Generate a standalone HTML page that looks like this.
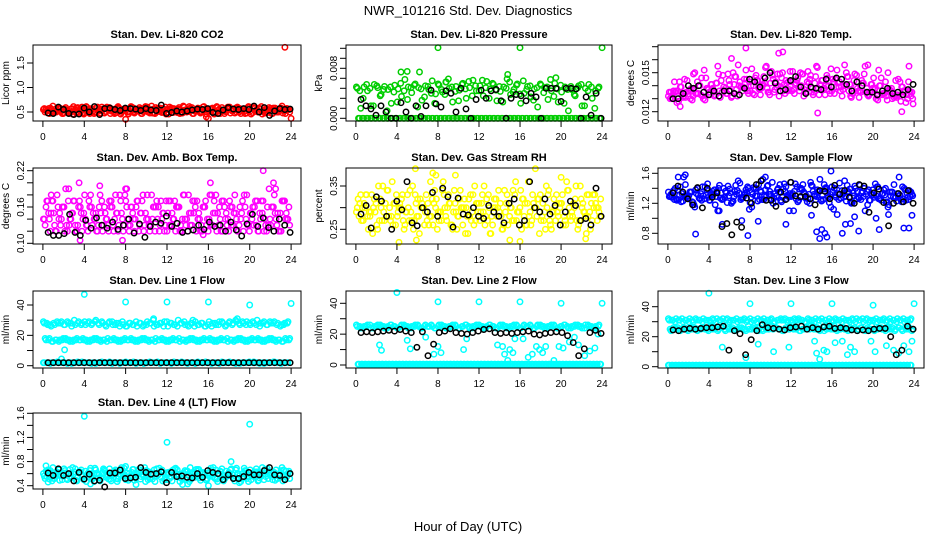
<!DOCTYPE html>
<html><head><meta charset="utf-8"><style>
html,body{margin:0;padding:0;background:#fff;}
svg{display:block;font-family:"Liberation Sans",Arial,sans-serif;}
</style></head><body>
<svg id="fig" width="936" height="540" viewBox="0 0 936 540">
<text x="468" y="15" text-anchor="middle" font-size="13">NWR_101216  Std. Dev. Diagnostics</text>
<text x="468" y="531" text-anchor="middle" font-size="13">Hour of Day (UTC)</text>
</svg>
<script>
// ---- data ----
const hourTicks=[0,4,8,12,16,20,24];
// CO2 (ppm)
const co2A=[0.55,0.52,0.58,0.50,0.54,0.57,0.49,0.53,0.56,0.51,0.59,0.52,0.48,0.55,0.57,0.50,0.53,0.60,0.51,0.54,0.56,0.49,0.58,0.52,0.55,0.50,0.57,0.53,0.59,0.51,0.54,0.48,0.56,0.52,0.58,0.50,0.55,0.53,0.57,0.49,0.54,0.60,0.51,0.56,0.52,0.58,0.50,0.55,0.53,0.57,0.49,0.54,0.59,0.51,0.56,0.52,0.58,0.50,0.55,0.53,0.60,0.49,0.54,0.57,0.51,0.56,0.52,0.58,0.50,0.55,0.53,0.57];
const co2B=[0.50,0.57,0.48,0.56,0.52,0.47,0.59,0.51,0.46,0.58,0.53,0.49,0.61,0.47,0.52,0.58,0.48,0.55,0.60,0.47,0.51,0.59,0.46,0.56,0.50,0.61,0.48,0.54,0.47,0.58,0.50,0.62,0.47,0.55,0.49,0.60,0.46,0.57,0.51,0.59,0.48,0.53,0.61,0.47,0.55,0.50,0.60,0.46,0.56,0.49,0.61,0.47,0.52,0.58,0.48,0.55,0.60,0.47,0.51,0.59,0.46,0.57,0.50,0.61,0.48,0.54,0.47,0.58,0.50,0.62,0.47,0.55];
const co2OutHours=[23.4,8.0,16.0,24.0,15.8];
const co2OutValues=[1.82,0.35,0.37,0.37,0.40];
const co2Black=[0.48,0.47,0.60,0.55,0.47,0.45,0.46,0.58,0.50,0.61,0.45,0.57,0.58,0.55,0.53,0.58,0.57,0.56,0.53,0.57,0.54,0.53,0.64,0.47,0.49,0.52,0.50,0.52,0.54,0.56,0.55,0.57,0.49,0.47,0.54,0.59,0.56,0.55,0.57,0.55,0.62,0.50,0.59,0.43,0.52,0.57,0.55,0.56];
// Pressure (1e-3 kPa)
const presA=[5.0,4.4,3.2,5.4,4.8,2.0,5.2,3.6,4.6,1.2,5.0,4.2,2.6,5.6,4.4,3.0,4.9,5.3,1.8,4.7,3.4,5.1,4.0,2.4,5.5,4.6,3.8,6.3,5.0,4.3,2.8,5.4,4.7,5.9,3.6,5.2,4.4,6.1,4.9,3.2,5.6,4.5,5.1,2.6,4.8,5.8,4.2,5.3,3.9,6.0,4.6,5.2,2.9,4.9,5.5,4.1,5.0,6.2,3.5,4.7,5.3,2.4,4.6,5.1,3.8,4.9,5.4,2.0,4.4,5.0,1.6,4.8];
const presZero=[0,0,0,0,0,0,0,0,0,0,0,0,0,0,0,0,0,0,0,0,0,0,0,0,0,0,0,0,0,0,0,0,0,0,0,0,0,0,0,0,0,0,0,0,0,0,0,0,0,0,0,0,0,0,0,0,0,0,0,0];
const presOutHours=[8,16,24,4.4,5.0,6.2,14.8,19.5,8.8];
const presOutValues=[11.3,11.3,11.3,7.4,7.5,7.4,7.0,6.5,5.8];
const presBlack=[3.0,2.0,1.5,0.5,2.0,1.0,0.0,0.0,2.5,1.0,0.0,2.0,0.3,2.0,4.5,2.3,1.8,4.4,4.0,1.0,4.8,1.5,0.0,3.0,4.5,3.2,4.4,4.6,2.8,0.0,3.2,3.8,3.6,2.8,4.0,3.4,0.0,4.8,4.8,4.8,2.7,4.8,4.8,4.7,0.0,3.4,0.5,4.0,0.0];
// Li-820 temp (1e-3 C)
const tempA=[13.2,13.0,13.5,12.8,13.3,13.1,13.6,12.9,13.4,14.0,13.2,14.6,13.5,13.8,14.2,13.6,14.8,13.4,14.1,15.0,13.7,14.3,13.9,14.5,13.6,14.0,14.4,13.3,14.7,13.8,14.2,13.5,14.9,13.9,14.1,13.6,14.3,13.4,14.6,14.0,13.7,15.1,13.5,14.2,13.8,14.4,13.3,14.0,13.6,14.5,13.9,13.2,14.1,13.6,13.4,13.9,13.1,14.2,13.5,13.3,13.8,13.0,14.0,13.4,13.2,13.7,13.5,13.1,14.3,13.6,13.3,13.5];
const tempB=[13.0,13.6,12.7,13.9,13.2,14.4,13.0,13.7,14.3,13.3,15.2,13.8,14.1,13.2,15.5,14.4,13.6,14.9,13.1,14.7,15.6,13.9,14.2,13.4,15.3,14.6,13.8,14.0,15.4,13.5,14.8,14.3,13.2,15.0,14.4,13.7,15.1,14.2,13.6,14.9,13.9,14.5,13.3,15.5,14.1,13.7,14.8,13.4,14.3,15.2,13.6,14.0,14.7,13.2,14.4,13.8,13.5,14.9,13.3,14.1,13.7,12.9,14.6,13.4,15.0,13.8,13.2,14.5,13.9,13.6,14.3,13.5];
const tempOutHours=[7.6,10.8,11.2,1.2,14.6,19.5,22.8,23.9,23.5,6.2,2.5];
const tempOutValues=[16.9,16.5,16.6,12.4,11.9,15.6,12.0,12.6,15.5,16.1,14.9];
const tempBlack=[13.0,13.0,13.4,14.0,13.8,14.0,13.5,13.3,13.6,13.2,13.6,13.6,13.4,13.3,13.8,14.5,14.3,13.9,14.6,15.0,14.2,13.6,13.7,14.4,14.7,13.9,13.4,13.9,13.8,13.7,14.5,13.9,14.6,14.5,14.1,13.6,14.3,14.0,13.5,13.5,13.3,13.6,13.8,13.4,13.5,13.3,13.7,14.1];
// Amb box temp (C)
const ambA=[0.14,0.17,0.12,0.15,0.18,0.13,0.16,0.12,0.14,0.17,0.13,0.15,0.18,0.12,0.16,0.14,0.13,0.17,0.15,0.12,0.16,0.18,0.13,0.14,0.17,0.12,0.15,0.16,0.13,0.18,0.14,0.12,0.16,0.17,0.13,0.15,0.12,0.17,0.14,0.16,0.13,0.18,0.12,0.15,0.17,0.14,0.13,0.16,0.12,0.18,0.15,0.13,0.17,0.14,0.12,0.16,0.15,0.13,0.17,0.14,0.12,0.16,0.13,0.15,0.17,0.12,0.14,0.16,0.13,0.15,0.17,0.14];
const ambB=[0.13,0.15,0.17,0.12,0.14,0.16,0.19,0.13,0.15,0.12,0.17,0.14,0.13,0.16,0.15,0.12,0.18,0.13,0.14,0.16,0.12,0.15,0.17,0.13,0.14,0.16,0.12,0.17,0.15,0.13,0.14,0.18,0.12,0.16,0.14,0.13,0.17,0.15,0.12,0.16,0.14,0.13,0.15,0.17,0.12,0.14,0.16,0.13,0.18,0.15,0.12,0.14,0.17,0.13,0.16,0.15,0.12,0.14,0.18,0.13,0.15,0.16,0.12,0.17,0.14,0.13,0.16,0.15,0.12,0.17,0.14,0.16];
const ambOutHours=[21.3,3.5,5.5,8.1,7.7,16.2,22.5,22.3,3.6,8.0,15.5,2.5,0.8];
const ambOutValues=[0.22,0.20,0.195,0.19,0.105,0.20,0.19,0.20,0.105,0.19,0.114,0.19,0.18];
const ambBlack=[0.118,0.113,0.113,0.116,0.148,0.118,0.113,0.138,0.125,0.142,0.130,0.125,0.135,0.123,0.130,0.140,0.117,0.132,0.110,0.128,0.135,0.133,0.145,0.128,0.133,0.118,0.120,0.122,0.130,0.123,0.135,0.128,0.130,0.120,0.135,0.122,0.112,0.132,0.148,0.128,0.142,0.126,0.120,0.140,0.130,0.118];
// Gas stream RH (percent)
const rhA=[0.29,0.31,0.27,0.33,0.28,0.30,0.26,0.32,0.29,0.34,0.27,0.31,0.28,0.30,0.25,0.33,0.29,0.27,0.32,0.30,0.26,0.31,0.28,0.34,0.29,0.27,0.30,0.33,0.26,0.31,0.28,0.30,0.24,0.32,0.29,0.27,0.31,0.33,0.28,0.30,0.26,0.32,0.29,0.25,0.31,0.28,0.34,0.27,0.30,0.32,0.26,0.29,0.31,0.28,0.33,0.27,0.30,0.26,0.32,0.29,0.31,0.28,0.34,0.27,0.30,0.25,0.32,0.29,0.28,0.31,0.33,0.30];
const rhB=[0.32,0.27,0.30,0.25,0.33,0.29,0.35,0.27,0.31,0.28,0.36,0.26,0.30,0.33,0.29,0.27,0.35,0.31,0.24,0.30,0.33,0.28,0.26,0.32,0.29,0.36,0.27,0.31,0.29,0.25,0.34,0.30,0.28,0.33,0.26,0.31,0.29,0.35,0.27,0.24,0.32,0.30,0.28,0.34,0.26,0.30,0.33,0.29,0.25,0.31,0.36,0.27,0.30,0.32,0.28,0.25,0.34,0.29,0.27,0.31,0.33,0.26,0.30,0.28,0.35,0.27,0.31,0.24,0.29,0.33,0.30,0.28];
const rhOutHours=[5.8,7.8,7.5,17.5,9.7,20.0,4.2,5.9,15.0,16.0,22.4];
const rhOutValues=[0.39,0.375,0.38,0.39,0.375,0.37,0.22,0.225,0.225,0.222,0.228];
const rhBlack=[0.285,0.305,0.253,0.325,0.315,0.28,0.25,0.315,0.295,0.36,0.265,0.258,0.30,0.29,0.335,0.28,0.345,0.325,0.255,0.322,0.285,0.283,0.30,0.28,0.275,0.305,0.29,0.28,0.265,0.31,0.32,0.26,0.27,0.36,0.30,0.29,0.32,0.285,0.305,0.26,0.29,0.315,0.305,0.27,0.275,0.26,0.345,0.28];
// Sample flow (l/min)
const sfA=[1.35,1.28,1.40,1.25,1.33,1.45,1.30,1.22,1.38,1.27,1.42,1.31,1.24,1.36,1.29,1.44,1.26,1.34,1.39,1.23,1.32,1.47,1.28,1.35,1.21,1.41,1.30,1.37,1.25,1.43,1.32,1.27,1.38,1.24,1.46,1.31,1.29,1.36,1.22,1.40,1.33,1.26,1.44,1.30,1.35,1.23,1.39,1.28,1.42,1.31,1.25,1.37,1.29,1.34,1.21,1.40,1.27,1.36,1.32,1.24,1.38,1.30,1.26,1.33,1.21,1.35,1.28,1.23,1.31,1.26,1.34,1.29];
const sfB=[1.30,1.37,1.24,1.42,1.55,1.29,1.35,1.18,1.40,1.33,1.26,1.46,1.31,1.38,1.10,1.34,1.28,1.43,1.20,1.36,1.50,1.27,1.33,1.40,1.15,1.30,1.45,1.25,1.38,1.32,1.48,1.22,1.35,1.28,1.42,1.10,1.33,1.26,1.39,1.45,1.30,1.20,1.36,1.29,1.52,1.25,1.40,1.32,1.12,1.38,1.27,1.34,1.44,1.22,1.30,1.36,1.25,1.40,1.18,1.33,1.28,1.42,1.24,1.31,1.15,1.35,1.27,1.30,1.22,1.38,1.25,1.32];
const sfOutHours=[1.0,1.7,2.7,5.3,5.0,7.2,7.8,8.8,11.5,14.0,14.5,14.8,15.0,15.3,15.5,15.9,16.5,17.0,17.3,17.8,18.2,18.6,20.3,20.6,21.5,23.0,23.5,23.8,12.0,9.5];
const sfOutValues=[1.55,1.58,0.79,0.92,1.10,0.97,0.77,0.96,0.92,1.04,0.82,0.73,0.85,0.80,0.75,1.63,1.05,0.80,0.92,0.93,1.02,0.83,1.00,0.85,1.05,0.87,0.87,1.04,1.48,1.55];
const sfBlack=[1.34,1.43,1.35,1.26,1.18,1.41,1.14,1.40,1.28,1.34,0.89,0.93,0.78,0.95,0.88,1.27,1.20,1.45,1.50,1.24,1.24,1.16,1.35,1.25,1.48,1.30,1.29,1.29,1.26,1.18,1.37,1.36,1.26,1.44,1.32,1.37,1.28,1.20,1.45,1.43,1.08,1.34,1.39,1.21,0.90,1.20,1.33,1.22,1.37,1.20];
// Line 1 flow
const l1Hi=[29,28,27,28,29,28,27,29,28,30,28,27,29,28,27,29,28,29,27,28,29,27,28,29,26,28,27,29,28,26,27,28,30,27,28,26,29,28,27,26,28,29,27,28,26,27,28,26,27,26,28,27,29,26,28,27,30,28,29,27,28,29,27,26,28,27,29,28,27,26,27,28];
const l1Mid=[18,17,16,17,16,17,18,17,16,17,17,18,17,16,17,18,17,17,16,17,18,17,16,17,17,18,17,16,17,18,17,17,16,17,18,17,16,17,17,18,17,16,17,18,17,16,17,17,18,17,16,17,17,18,17,16,17,18,17,16,17,17,18,17,16,17,18,17,17,16,18,17];
const l1Low=[2,2,1.5,2,2.5,2,2,1.5,2,2,2.5,2,2,2,1.5,2,2,2.5,2,2,1.5,2,2,2,2.5,2,2,1.5,2,2,2,2.5,2,2,1.5,2,2,2,2.5,2,2,2,1.5,2,2,2.5,2,2,2,1.5,2,2,2.5,2,2,2,1.5,2,2,2,2.5,2,2,1.5,2,2,2,2.5,2,2,2,2];
const l1OutHours=[4,8,12,16,20,24,2.1,1.8,10.7,14.5,18.8];
const l1OutValues=[47,42,42,42,40,41,10.5,4.5,31,30,31];
const l1Black=[2,2,2,2,2,2,2,2,2,2,2,2,2,2,2,2,2,2,2,2,2,2,2,2,2,2,2,2,2,2,2,2,2,2,2,2,2,2,2,2,2,2,2,2,2,2,2,2];
// Line 2 flow
const l2Hi=[26,25,24,25,26,24,25,26,25,24,26,25,24,25,26,25,24,25,26,24,25,25,26,24,25,26,25,24,25,26,24,25,26,25,24,25,26,25,24,26,25,24,25,26,25,24,25,26,24,25,25,26,24,25,26,25,24,25,26,24,25,26,25,24,25,26,25,24,26,25,24,25];
const l2Zero=[0.5,0.5,0.5,0.5,0.5,0.5,0.5,0.5,0.5,0.5,0.5,0.5,0.5,0.5,0.5,0.5,0.5,0.5,0.5,0.5,0.5,0.5,0.5,0.5,0.5,0.5,0.5,0.5,0.5,0.5,0.5,0.5,0.5,0.5,0.5,0.5,0.5,0.5,0.5,0.5,0.5,0.5,0.5,0.5,0.5,0.5,0.5,0.5,0.5,0.5,0.5,0.5,0.5,0.5,0.5,0.5,0.5,0.5,0.5,0.5,0.5,0.5,0.5,0.5,0.5,0.5,0.5,0.5,0.5,0.5,0.5,0.5];
const l2OutHours=[4,8,12,16,20,24,2.3,2.5,5.0,5.3,6.8,7.6,8.0,8.3,10.5,10.8,13.8,14.3,14.5,14.8,15.0,15.3,15.5,16.3,16.8,17.2,17.6,17.9,18.2,18.5,19.3,19.8,20.2,20.8,21.3,21.7,22.3,22.8,23.3,23.6];
const l2OutValues=[47,41,41,41,40,40,13,9.5,16,10.5,18,7,12,8,10,17,13,12,7,3,10,8,17,17,5,7,12,10,8,12,3,12,11,15,18,13,6,9,11,20];
const l2Black=[21,21.5,21,21.5,22,22.5,22,23,22,21,11.5,21.5,6,13.5,21,22,23.5,21,20.5,20,21,22,23,23.5,21,20.5,21,20.5,21,21.5,22,20,19.5,20.5,21,21.5,21,19,14.5,6,10.5,21,22.5,20.5];
// Line 3 flow
const l3Hi=[32,31,30,31,32,31,30,31,32,31,30,31,31,32,30,31,32,31,30,31,32,31,31,30,32,31,30,31,32,31,31,30,31,32,31,30,31,32,31,31,30,32,31,30,31,32,31,30,31,32,31,30,31,31,32,30,31,32,31,30,31,32,31,31,30,32,31,30,31,32,31,31];
const l3Mid=[25,26,25,24,26,25,26,25,24,25,26,25,27,25,24,26,25,26,25,24,25,26,25,27,25,26,24,25,26,25,27,26,25,24,26,25,26,25,24,25,26,25,27,25,24,26,25,26,25,24,25,26,25,26,25,24,26,25,26,25,24,25,26,25,26,25,24,26,25,26,25,24];
const l3Zero=[1,1,1,1,1,1,1,1,1,1,1,1,1,1,1,1,1,1,1,1,1,1,1,1,1,1,1,1,1,1,1,1,1,1,1,1,1,1,1,1,1,1,1,1,1,1,1,1,1,1,1,1,1,1,1,1,1,1,1,1,1,1,1,1,1,1,1,1,1,1,1,1];
const l3OutHours=[4,8,12,16,20,24,5.3,7.6,8.8,10.3,11.8,14.3,14.5,14.8,15.2,15.5,16.3,17.0,17.5,17.8,18.2,19.8,20.2,21.3,22.0,22.5,23.0,23.5,23.8];
const l3OutValues=[49,42,42,42,41,42,13,6,15,10,13,17,9,5,11,10,16,17,8,13,10,17,10,14,11,9,14,10,17];
const l3Black=[24.5,24,25,25.5,25,25.5,26,26,26.5,27,11,24,22,8,18,24,28,26,25.5,25,24.5,26,26.5,27,25,26,25,26.5,27,25.5,26,25.5,24.5,24,24.5,24,25,25.5,25.5,20,8,11,27,25];
// Line 4 (LT) flow
const l4A=[0.60,0.55,0.65,0.52,0.62,0.58,0.68,0.50,0.60,0.63,0.55,0.66,0.52,0.61,0.57,0.69,0.53,0.60,0.64,0.51,0.58,0.66,0.55,0.62,0.50,0.60,0.67,0.54,0.61,0.57,0.65,0.52,0.59,0.68,0.55,0.62,0.50,0.63,0.58,0.66,0.53,0.60,0.64,0.51,0.59,0.67,0.55,0.61,0.57,0.65,0.52,0.60,0.68,0.54,0.62,0.58,0.66,0.51,0.60,0.64,0.55,0.61,0.68,0.53,0.59,0.65,0.57,0.62,0.52,0.60,0.66,0.56];
const l4B=[0.52,0.64,0.48,0.58,0.66,0.50,0.61,0.55,0.70,0.49,0.62,0.57,0.47,0.65,0.53,0.60,0.48,0.68,0.56,0.51,0.63,0.47,0.59,0.69,0.52,0.57,0.49,0.64,0.55,0.70,0.50,0.61,0.47,0.58,0.66,0.52,0.60,0.48,0.69,0.56,0.51,0.63,0.47,0.59,0.67,0.53,0.62,0.49,0.57,0.70,0.51,0.64,0.48,0.58,0.66,0.52,0.60,0.47,0.69,0.55,0.50,0.63,0.48,0.59,0.67,0.52,0.61,0.49,0.56,0.70,0.51,0.64];
const l4OutHours=[4,12,20,18.2,16,0.3,0.5,8,4.6,13.5,9.0,14.0,19.0];
const l4OutValues=[1.55,1.12,1.42,0.80,0.40,0.73,0.46,0.72,0.43,0.42,0.42,0.43,0.45];
const l4Black=[0.61,0.57,0.68,0.57,0.60,0.48,0.62,0.51,0.59,0.48,0.49,0.38,0.61,0.61,0.66,0.52,0.53,0.54,0.70,0.62,0.59,0.60,0.63,0.45,0.62,0.55,0.56,0.54,0.53,0.60,0.54,0.65,0.62,0.60,0.50,0.58,0.52,0.52,0.55,0.62,0.58,0.58,0.65,0.70,0.58,0.57,0.50,0.60];

// ---- panel definitions ----
const NS="http://www.w3.org/2000/svg";
const fig=document.getElementById('fig');
const colLeft=[33,346,658], colW=[268,266,266];
const rowTop=[45,168,291,413], rowBot=[121,244,368,489];
const panels=[
 {name:'co2',title:'Stan. Dev. Li-820 CO2',ylab:'Licor ppm',r:0,c:0,col:'#ff0000',ya:[0.5,112,1.5,63],yt:[0.5,1.0,1.5],yl:['0.5','1.0','1.5'],series:[co2A,co2B],oh:co2OutHours,ov:co2OutValues,blk:co2Black},
 {name:'pressure',title:'Stan. Dev. Li-820 Pressure',ylab:'kPa',r:0,c:1,col:'#00cd00',ya:[0,118.3,8,68.3],yt:[0,1.6,3.2,4.8,6.4,8,9.6,11.2],yl:['0.000','','','','','0.008','',''],series:[presA,presZero],oh:presOutHours,ov:presOutValues,blk:presBlack},
 {name:'li820-temp',title:'Stan. Dev. Li-820 Temp.',ylab:'degrees C',r:0,c:2,col:'#ff00ff',ya:[12,111.7,15,72.7],yt:[12,13,14,15,16,17],yl:['0.012','','','0.015','',''],series:[tempA,tempB],oh:tempOutHours,ov:tempOutValues,blk:tempBlack},
 {name:'amb-box-temp',title:'Stan. Dev. Amb. Box Temp.',ylab:'degrees C',r:1,c:0,col:'#ff00ff',ya:[0.10,243.3,0.22,170.7],yt:[0.10,0.12,0.14,0.16,0.18,0.20,0.22],yl:['0.10','','','0.16','','','0.22'],series:[ambA,ambB],oh:ambOutHours,ov:ambOutValues,blk:ambBlack},
 {name:'gas-rh',title:'Stan. Dev. Gas Stream RH',ylab:'percent',r:1,c:1,col:'#ffff00',ya:[0.25,229.3,0.35,186],yt:[0.25,0.30,0.35],yl:['0.25','','0.35'],series:[rhA,rhB],oh:rhOutHours,ov:rhOutValues,blk:rhBlack},
 {name:'sample-flow',title:'Stan. Dev. Sample Flow',ylab:'ml/min',r:1,c:2,col:'#0000ff',ya:[0.8,233.3,1.6,173.3],yt:[0.8,1.0,1.2,1.4,1.6],yl:['0.8','','1.2','','1.6'],series:[sfA,sfB],oh:sfOutHours,ov:sfOutValues,blk:sfBlack},
 {name:'line1-flow',title:'Stan. Dev. Line 1 Flow',ylab:'ml/min',r:2,c:0,col:'#00ffff',ya:[0,365.7,40,305],yt:[0,10,20,30,40],yl:['0','','20','','40'],series:[l1Hi,l1Mid,l1Low],oh:l1OutHours,ov:l1OutValues,blk:l1Black},
 {name:'line2-flow',title:'Stan. Dev. Line 2 Flow',ylab:'ml/min',r:2,c:1,col:'#00ffff',ya:[0,365,40,303.3],yt:[0,10,20,30,40],yl:['0','','20','','40'],series:[l2Hi,l2Zero],oh:l2OutHours,ov:l2OutValues,blk:l2Black},
 {name:'line3-flow',title:'Stan. Dev. Line 3 Flow',ylab:'ml/min',r:2,c:2,col:'#00ffff',ya:[0,366.7,40,306.7],yt:[0,10,20,30,40],yl:['0','','20','','40'],series:[l3Hi,l3Mid,l3Zero],oh:l3OutHours,ov:l3OutValues,blk:l3Black},
 {name:'line4-flow',title:'Stan. Dev. Line 4 (LT) Flow',ylab:'ml/min',r:3,c:0,col:'#00ffff',ya:[0.4,485.7,1.6,413.3],yt:[0.4,0.6,0.8,1.0,1.2,1.4,1.6],yl:['0.4','','0.8','','1.2','','1.6'],series:[l4A,l4B],oh:l4OutHours,ov:l4OutValues,blk:l4Black}
];
function mk(tag,attrs,parent){const e=document.createElementNS(NS,tag);for(const k in attrs)e.setAttribute(k,attrs[k]);(parent||fig).appendChild(e);return e;}

panels.forEach(p=>{
 const L=colLeft[p.c], W=colW[p.c], T=rowTop[p.r], B=rowBot[p.r];
 const x0=L+9.9, pxh=(W-19.8)/24;
 const xs=h=>x0+h*pxh;
 const ys=v=>p.ya[1]+(v-p.ya[0])*(p.ya[3]-p.ya[1])/(p.ya[2]-p.ya[0]);
 const g=mk('g',{});
 
 
 const t=mk('text',{x:L+W/2,y:T-7,'text-anchor':'middle','font-size':'11','font-weight':'bold'},g);
 t.textContent=p.title;
 
 
 const yl=mk('text',{x:0,y:0,'text-anchor':'middle','font-size':'10',transform:`translate(${L-24},${(T+B)/2}) rotate(-90)`},g);
 yl.textContent=p.ylab;
 
 
 const pts=mk('g',{fill:'none','stroke-width':'1.5'},g);
 
 
 function dot(h,v,color){const c=mk('circle',{cx:xs(h).toFixed(1),cy:ys(v).toFixed(1),r:2.7,stroke:color},pts);
  
  }
 // each colored series plotted as forward pass and a second site pass (reversed order)
 p.series.forEach((arr,si)=>{const n=arr.length;
  arr.forEach((v,i)=>dot(0.05+(i+0.5*(si%2))*23.9/n,v,p.col));
  arr.forEach((v,i)=>dot(0.05+(n-1-i+0.25+0.5*(si%2))*23.9/n,v,p.col));
 });
 p.oh.forEach((h,i)=>dot(h,p.ov[i],p.col));
 const nb=p.blk.length;
 p.blk.forEach((v,i)=>dot(0.5+i*23.4/(nb-1),v,'#000'));
 const box=mk('rect',{x:L,y:T,width:W,height:B-T,fill:'none',stroke:'#000','stroke-width':'1'},g);
 
 
 hourTicks.forEach(h=>{
  mk('line',{x1:xs(h),x2:xs(h),y1:B,y2:B+6,stroke:'#000'},g);
  const tl=mk('text',{x:xs(h),y:B+19,'text-anchor':'middle','font-size':'10'},g);
  tl.textContent=h;
  
  
 });
 p.yt.forEach((v,i)=>{
  const y=ys(v);
  mk('line',{x1:L-6,x2:L,y1:y,y2:y,stroke:'#000'},g);
  if(p.yl[i]){const tl=mk('text',{x:0,y:0,'text-anchor':'middle','font-size':'10',transform:`translate(${L-9},${y}) rotate(-90)`},g);
   tl.textContent=p.yl[i];
   
   }
 });
});
</script>
</body></html>
